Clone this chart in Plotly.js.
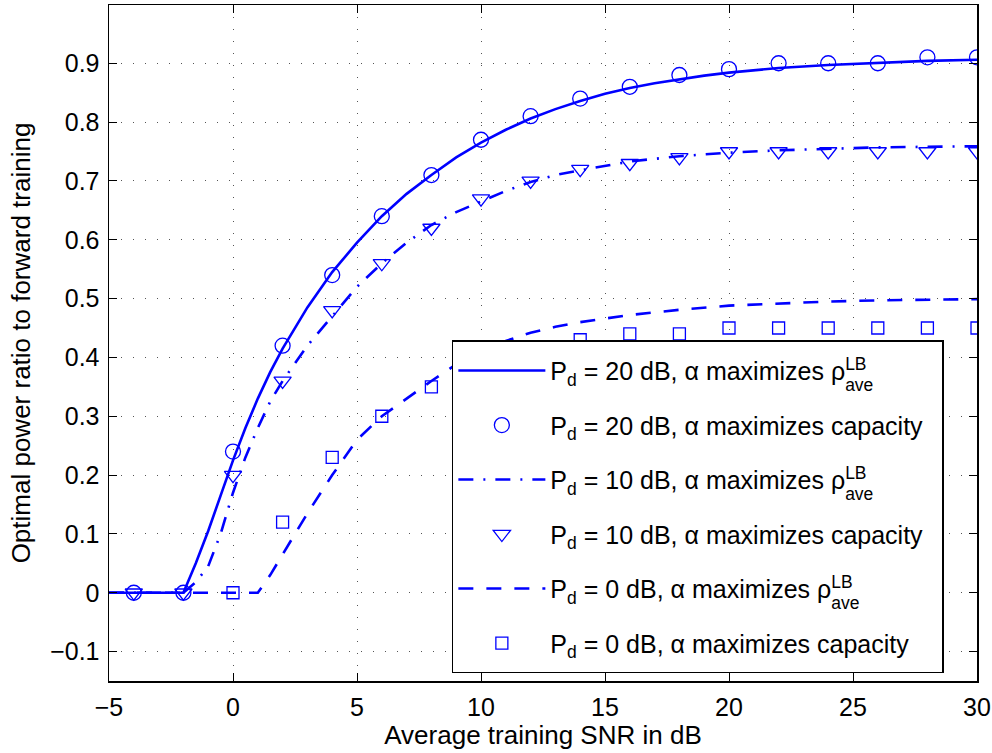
<!DOCTYPE html>
<html>
<head>
<meta charset="utf-8">
<script src="https://cdn.plot.ly/plotly-3.0.1.min.js"></script>
<style>
html,body{margin:0;padding:0;background:#fff;}
#chart{width:992px;height:753px;}
</style>
</head>
<body>
<div id="chart"></div>
<script>
// ---- data ----
// curves: alpha maximizes rho_ave^LB
const xPd20Line = [-5,-4,-3,-2,-1.5,-1,-0.5,0,0.5,1,1.5,2,3,4,5,6,7,8,9,10,11,12,13,14,15,16,17,18,19,20,22,24,26,28,30];
const yPd20Line = [0,0,0,0,0.05,0.105,0.165,0.225,0.28,0.33,0.375,0.415,0.485,0.545,0.595,0.64,0.678,0.71,0.74,0.765,0.787,0.806,0.822,0.836,0.848,0.858,0.866,0.873,0.879,0.884,0.892,0.897,0.901,0.904,0.906];

const xPd10Line = [-5,-4,-3,-2,-1.5,-1,-0.5,0,0.5,1,1.5,2,3,4,5,6,7,8,9,10,11,12,13,14,15,16,18,20,22,24,26,28,30];
const yPd10Line = [0,0,0,0,0.018,0.045,0.1,0.17,0.23,0.28,0.325,0.36,0.42,0.47,0.52,0.56,0.595,0.625,0.647,0.665,0.683,0.698,0.71,0.718,0.726,0.733,0.742,0.748,0.752,0.755,0.757,0.758,0.759];

const xPd0Line = [-5,-4,-3,-2,-1,0,1,1.5,2,3,4,5,6,7,8,9,10,11,12,13,14,16,18,20,22,24,26,28,30];
const yPd0Line = [0,0,0,0,0,0,0,0.03,0.065,0.135,0.2,0.26,0.3,0.33,0.36,0.388,0.41,0.428,0.442,0.452,0.46,0.472,0.481,0.488,0.492,0.495,0.497,0.498,0.499];

// markers: alpha maximizes capacity
const xCap = [-4,-2,0,2,4,6,8,10,12,14,16,18,20,22,24,26,28,30];
const yPd20Cap = [0,0,0.24,0.42,0.54,0.64,0.71,0.77,0.81,0.84,0.86,0.88,0.89,0.90,0.90,0.90,0.91,0.91];
const yPd10Cap = [0,0,0.20,0.36,0.48,0.56,0.62,0.67,0.70,0.72,0.73,0.74,0.75,0.75,0.75,0.75,0.75,0.75];
const xPd0Cap = [0,2,4,6,8,10,12,14,16,18,20,22,24,26,28,30];
const yPd0Cap = [0,0.12,0.23,0.30,0.35,0.39,0.41,0.43,0.44,0.44,0.45,0.45,0.45,0.45,0.45,0.45];

const names = [
  'P<sub>d</sub> = 20 dB, α maximizes ρ<sup>LB</sup><sub>ave</sub>',
  'P<sub>d</sub> = 20 dB, α maximizes capacity',
  'P<sub>d</sub> = 10 dB, α maximizes ρ<sup>LB</sup><sub>ave</sub>',
  'P<sub>d</sub> = 10 dB, α maximizes capacity',
  'P<sub>d</sub> = 0 dB, α maximizes ρ<sup>LB</sup><sub>ave</sub>',
  'P<sub>d</sub> = 0 dB, α maximizes capacity'
];
const xTicks = [-5,0,5,10,15,20,25,30];
const yTicks = [-0.1,0,0.1,0.2,0.3,0.4,0.5,0.6,0.7,0.8,0.9];

const blue = '#0000ff';
const traces = [
  {x:xPd20Line, y:yPd20Line, mode:'lines', name:names[0], line:{color:blue,width:2.6}, legendgroup:'a'},
  {x:xCap, y:yPd20Cap, mode:'markers', name:names[1], marker:{symbol:'circle-open',size:15,color:blue,line:{width:1.3}}, legendgroup:'b'},
  {x:xPd10Line, y:yPd10Line, mode:'lines', name:names[2], line:{color:blue,width:2.6,dash:'15px,10px,2px,10px'}, legendgroup:'c'},
  {x:xCap, y:yPd10Cap, mode:'markers', name:names[3], marker:{symbol:'triangle-down-open',size:15,color:blue,line:{width:1.3}}, legendgroup:'d'},
  {x:xPd0Line, y:yPd0Line, mode:'lines', name:names[4], line:{color:blue,width:2.6,dash:'15px,13px'}, legendgroup:'e'},
  {x:xPd0Cap, y:yPd0Cap, mode:'markers', name:names[5], marker:{symbol:'square-open',size:12,color:blue,line:{width:1.3}}, legendgroup:'f'}
];

const fontFam = 'Liberation Sans, Arial, sans-serif';
const layout = {
  width:992, height:753,
  margin:{l:109, r:15, t:5, b:72},
  paper_bgcolor:'#fff', plot_bgcolor:'#fff',
  font:{family:fontFam, size:25, color:'#000'},
  showlegend:true,
  legend:{x:0.395, y:0.504, xanchor:'left', yanchor:'top', bgcolor:'#fff',
          bordercolor:'#000', borderwidth:1.5, font:{family:fontFam,size:25,color:'#000'},
          tracegroupgap:19, itemwidth:87},
  xaxis:{range:[-5,30], tickvals:xTicks, ticks:'inside', ticklen:8, tickwidth:1, tickcolor:'#000',
         showline:true, linecolor:'#000', linewidth:1.5, mirror:'ticks',
         showgrid:true, gridcolor:'#555', gridwidth:1, griddash:'1px,11px', zeroline:false,
         ticklabelstandoff:3,
         title:{text:'Average training SNR in dB', font:{size:26}, standoff:0}},
  yaxis:{range:[-0.15,0.999], tickvals:yTicks, ticks:'inside', ticklen:8, tickwidth:1, tickcolor:'#000',
         showline:true, linecolor:'#000', linewidth:1.5, mirror:'ticks',
         showgrid:true, gridcolor:'#555', gridwidth:1, griddash:'1px,11px', zeroline:false,
         ticklabelstandoff:3,
         title:{text:'Optimal power ratio to forward training', font:{size:26}, standoff:12}}
};
Plotly.newPlot('chart', traces, layout, {displayModeBar:false, staticPlot:true}).then(function(gd){
  // stack the subscript "ave" under the superscript "LB" as in the original TeX label
  gd.querySelectorAll('.legendtext').forEach(function(t){
    var spans = Array.prototype.slice.call(t.querySelectorAll('tspan'));
    var lb = spans.find(function(s){return s.textContent === 'LB';});
    var ave = spans.find(function(s){return s.textContent === 'ave';});
    if (lb && ave) {
      var w = lb.getComputedTextLength();
      ave.setAttribute('dx', (-w).toFixed(2));
      ave.setAttribute('dy', '0.62em');
    }
  });
  // a little more padding inside the legend box, as in the original
  var bg = gd.querySelector('.legend rect.bg');
  if (bg) {
    bg.setAttribute('width', (+bg.getAttribute('width') + 14));
    bg.setAttribute('height', (+bg.getAttribute('height') + 12));
  }
  document.querySelectorAll('clipPath[id^="legend"] rect').forEach(function(r){
    r.setAttribute('width', (+r.getAttribute('width') + 14));
    r.setAttribute('height', (+r.getAttribute('height') + 12));
  });
  gd.querySelectorAll('.legend g.traces').forEach(function(tr){
    var m = /translate\(\s*([-\d.e]+)[ ,]+([-\d.e]+)\s*\)/.exec(tr.getAttribute('transform') || '');
    if (m) tr.setAttribute('transform', 'translate(' + m[1] + ',' + (parseFloat(m[2]) + 6) + ')');
  });
});
</script>
</body>
</html>
